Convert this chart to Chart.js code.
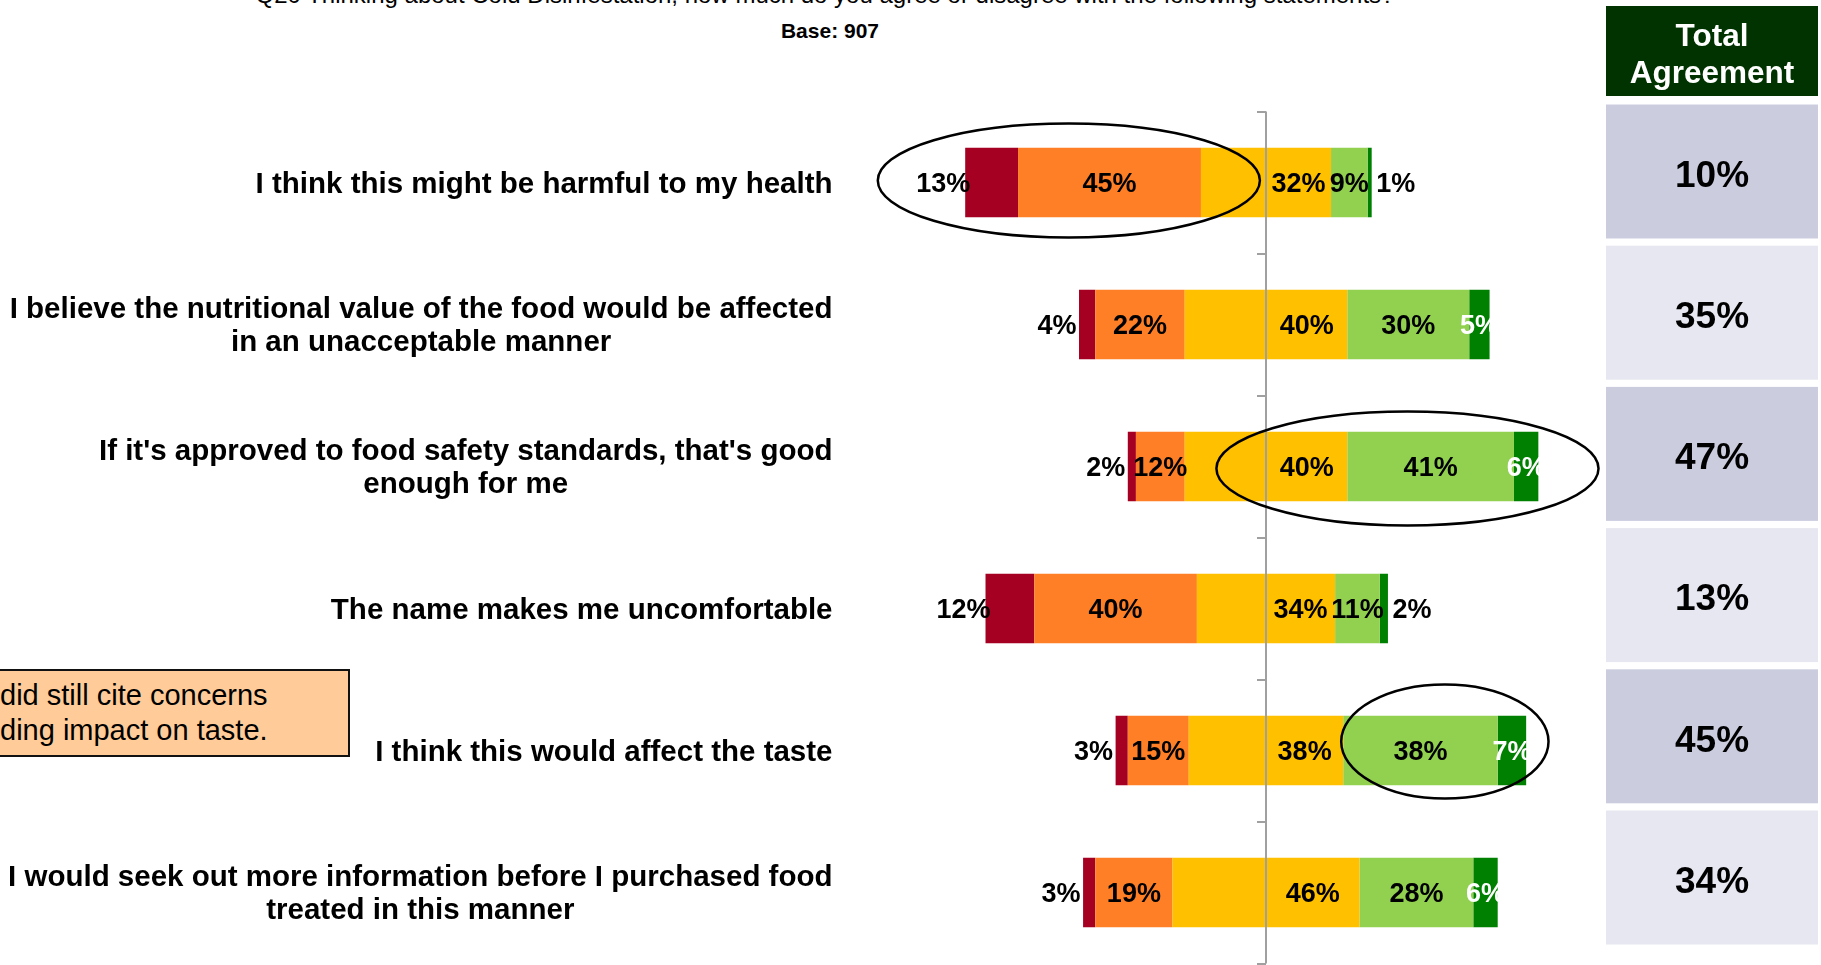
<!DOCTYPE html>
<html>
<head>
<meta charset="utf-8">
<title>Cold Disinfestation - agreement</title>
<script src="https://cdn.jsdelivr.net/npm/chart.js@4.4.1/dist/chart.umd.min.js"></script>
<style>
    html, body { margin: 0; padding: 0; background: #ffffff; }
    body { width: 1821px; height: 965px; position: relative; overflow: hidden;
           font-family: "Liberation Sans", Arial, sans-serif; color: #000; }
    #chart { position: absolute; left: 0; top: 0; }
    .question { position: absolute; left: 0; width: 1650px; top: -17px; text-align: center;
                font-size: 24px; line-height: 24px; white-space: nowrap; }
    .base { position: absolute; left: 0; width: 1660px; top: 19px; text-align: center;
            font-size: 21px; font-weight: bold; line-height: 24px; }
    .callout { position: absolute; left: -8px; top: 669px; width: 358px; height: 88px;
               background: #ffcc99; border: 2px solid #111; box-sizing: border-box;
               font-size: 29px; line-height: 35px; padding: 7px 0 0 6px; white-space: nowrap; }
</style>
</head>
<body>
<div class="question">Q20 Thinking about Cold Disinfestation, how much do you agree or disagree with the following statements?</div>
<div class="base">Base: 907</div>
<canvas id="chart" width="1821" height="965"></canvas>
<div class="callout">did still cite concerns<br>ding impact on taste.</div>
<script>
// statements (multi-line ones are split where the slide breaks them)
const statements = [
    ['I think this might be harmful to my health'],
    ['I believe the nutritional value of the food would be affected', 'in an unacceptable manner'],
    ["If it's approved to food safety standards, that's good", 'enough for me'],
    ['The name makes me uncomfortable'],
    ['I think this would affect the taste'],
    ['I would seek out more information before I purchased food', 'treated in this manner']
];

// % of respondents, base 907
const stronglyDisagree = [13, 4, 2, 12, 3, 3];
const disagree = [45, 22, 12, 40, 15, 19];
const neutral = [32, 40, 40, 34, 38, 46];
const agree = [9, 30, 41, 11, 38, 28];
const stronglyAgree = [1, 5, 6, 2, 7, 6];
const totalAgreement = [10, 35, 47, 13, 45, 34];

const COLORS = {
    strongDis: '#a50021',
    dis: '#ff7f27',
    neutral: '#ffc000',
    agree: '#92d050',
    strongAgree: '#008000'
};

// circled areas on the slide (value units on x, pixels on y)
const highlights = [
    { row: 0, cx: -48.5, rx: 47, ry: 57, dy: -2 },
    { row: 2, cx: 34.8, rx: 47, ry: 57, dy: 2 },
    { row: 4, cx: 44, rx: 25.5, ry: 57, dy: -9 }
];

const halfNeutral = neutral.map(v => v / 2);
const neg = arr => arr.map(v => -v);

// y axis with ticks at category borders, drawn at x = 0
const centerAxis = {
    id: 'centerAxis',
    afterDatasetsDraw(chart) {
        const { ctx, chartArea, scales: { x, y } } = chart;
        const x0 = x.getPixelForValue(0);
        ctx.save();
        ctx.strokeStyle = '#a0a0a0';
        ctx.lineWidth = 2;
        ctx.beginPath();
        ctx.moveTo(x0, chartArea.top);
        ctx.lineTo(x0, chartArea.bottom);
        for (let i = 0; i <= statements.length; i++) {
            const yy = Math.round(y.getPixelForValue(i - 0.5));
            ctx.moveTo(x0 - 9, yy);
            ctx.lineTo(x0, yy);
        }
        ctx.stroke();
        ctx.restore();
    }
};

// ellipses around the highlighted parts
const circles = {
    id: 'circles',
    afterDatasetsDraw(chart) {
        const { ctx, scales: { x, y } } = chart;
        const pxPerUnit = x.getPixelForValue(1) - x.getPixelForValue(0);
        ctx.save();
        ctx.strokeStyle = '#000';
        ctx.lineWidth = 2.5;
        highlights.forEach(h => {
            ctx.beginPath();
            ctx.ellipse(x.getPixelForValue(h.cx), y.getPixelForValue(h.row) + h.dy,
                h.rx * pxPerUnit, h.ry, 0, 0, Math.PI * 2);
            ctx.stroke();
        });
        ctx.restore();
    }
};

// percentage labels on the bars
const barLabels = {
    id: 'barLabels',
    afterDatasetsDraw(chart) {
        const { ctx } = chart;
        ctx.save();
        ctx.font = 'bold 27px "Liberation Sans", Arial, sans-serif';
        ctx.textAlign = 'center';
        ctx.textBaseline = 'middle';
        chart.data.datasets.forEach((ds, di) => {
            if (!ds.labelMode) return;
            const meta = chart.getDatasetMeta(di);
            meta.data.forEach((bar, i) => {
                const v = ds.values[i];
                const txt = v + '%';
                let tx = (bar.x + bar.base) / 2;
                ctx.fillStyle = '#000';
                if (ds.labelMode === 'outsideStart') {
                    tx = bar.x - 22;
                } else if (ds.labelMode === 'strongAgree') {
                    if (v <= 2) {
                        tx = bar.x + 24;
                    } else {
                        ctx.fillStyle = '#fff';
                    }
                }
                ctx.fillText(txt, tx, bar.y + 2);
            });
        });
        ctx.restore();
    }
};

// statement text, right aligned block with centred lines
const statementLabels = {
    id: 'statementLabels',
    afterDraw(chart) {
        const { ctx, chartArea, scales: { y } } = chart;
        const right = chartArea.left - 27;
        const lineH = 33;
        ctx.save();
        ctx.font = 'bold 29.5px "Liberation Sans", Arial, sans-serif';
        ctx.fillStyle = '#000';
        ctx.textAlign = 'center';
        ctx.textBaseline = 'middle';
        statements.forEach((lines, i) => {
            const w = Math.max(...lines.map(l => ctx.measureText(l).width));
            const cx = right - w / 2;
            const cy = y.getPixelForValue(i) + 2;
            lines.forEach((l, k) => {
                ctx.fillText(l, cx, cy + (k - (lines.length - 1) / 2) * lineH);
            });
        });
        ctx.restore();
    }
};

// "Total Agreement" column on the right
const agreementTable = {
    id: 'agreementTable',
    afterDraw(chart) {
        const { ctx, scales: { y } } = chart;
        const left = 1606, width = 212;
        ctx.save();
        ctx.fillStyle = '#003300';
        ctx.fillRect(left, 6, width, 90);
        ctx.fillStyle = '#fff';
        ctx.font = 'bold 31.5px "Liberation Sans", Arial, sans-serif';
        ctx.textAlign = 'center';
        ctx.textBaseline = 'middle';
        ctx.fillText('Total', left + width / 2, 37);
        ctx.fillText('Agreement', left + width / 2, 74);
        ctx.font = 'bold 37px "Liberation Sans", Arial, sans-serif';
        totalAgreement.forEach((v, i) => {
            const cy = y.getPixelForValue(i) - 11 - i * 0.8;
            ctx.fillStyle = i % 2 === 0 ? '#cbcddf' : '#e6e7f0';
            ctx.fillRect(left, cy - 67, width, 134);
            ctx.fillStyle = '#000';
            ctx.fillText(v + '%', left + width / 2, cy + 5);
        });
        ctx.restore();
    }
};

new Chart(document.getElementById('chart'), {
    type: 'bar',
    data: {
        labels: statements.map(s => s.join(' ')),
        datasets: [
            { label: 'Neither (left half)', data: neg(halfNeutral), values: neutral,
              backgroundColor: COLORS.neutral, labelMode: null },
            { label: 'Disagree', data: neg(disagree), values: disagree,
              backgroundColor: COLORS.dis, labelMode: 'center' },
            { label: 'Strongly disagree', data: neg(stronglyDisagree), values: stronglyDisagree,
              backgroundColor: COLORS.strongDis, labelMode: 'outsideStart' },
            { label: 'Neither agree nor disagree', data: halfNeutral, values: neutral,
              backgroundColor: COLORS.neutral, labelMode: 'center' },
            { label: 'Agree', data: agree, values: agree,
              backgroundColor: COLORS.agree, labelMode: 'center' },
            { label: 'Strongly agree', data: stronglyAgree, values: stronglyAgree,
              backgroundColor: COLORS.strongAgree, labelMode: 'strongAgree' }
        ]
    },
    options: {
        indexAxis: 'y',
        responsive: false,
        animation: false,
        layout: { padding: { left: 859.5, right: 229.8, top: 111.5, bottom: 1.5 } },
        datasets: { bar: { categoryPercentage: 0.49, barPercentage: 1, borderWidth: 0 } },
        scales: {
            x: { stacked: true, min: -100, max: 80, display: false },
            y: { stacked: true, display: false }
        },
        plugins: {
            legend: { display: false },
            tooltip: { enabled: false }
        }
    },
    plugins: [centerAxis, circles, barLabels, statementLabels, agreementTable]
});
</script>
</body>
</html>
